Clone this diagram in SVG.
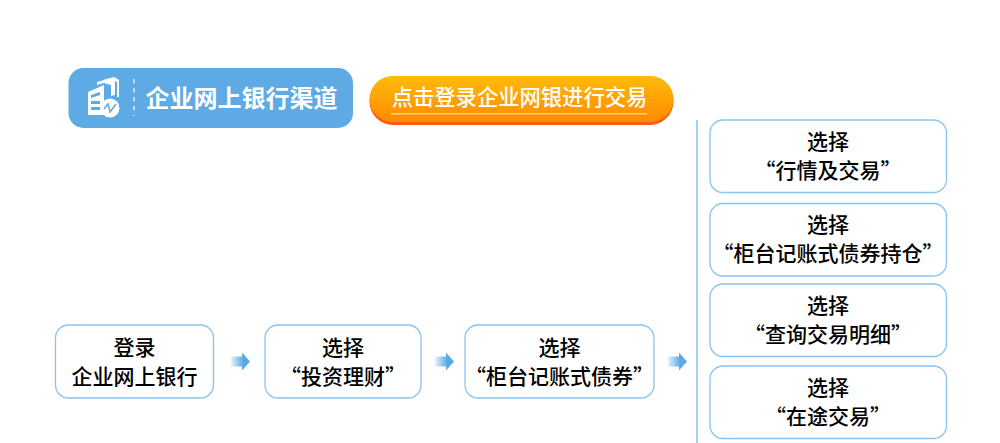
<svg xmlns="http://www.w3.org/2000/svg" width="1000" height="443" viewBox="0 0 1000 443">
<defs>
<linearGradient id="og" x1="0" y1="0" x2="0" y2="1"><stop offset="0" stop-color="#ffbb0a"/><stop offset="1" stop-color="#ff8a00"/></linearGradient>
<linearGradient id="ag" x1="0" y1="0" x2="1" y2="0"><stop offset="0" stop-color="#5aa9e6" stop-opacity="0.15"/><stop offset="0.65" stop-color="#5aa9e6"/></linearGradient>
<path id="arrow" d="M0 -5H11V-9L19 0L11 9V5H0Z" fill="url(#ag)"/>
</defs>
<style>
text{font-family:"Noto Sans CJK SC","Noto Sans CJK JP",sans-serif;text-anchor:middle}
.b{fill:#fff;stroke:#8cc3ee;stroke-width:1.300}
.t{font-size:21px;fill:#000;font-weight:500}
</style>
<rect width="1000" height="443" fill="#fff"/>
<g id="channel-title">
<rect x="68.500" y="68" width="284.500" height="60" rx="15" fill="#5eaae4"/>
<g fill="#fff">
<path d="M88 92L104 85V115H88ZM91 95V98L100 95V92ZM91 101V104H100V101ZM91 107V110H100V107Z" fill-rule="evenodd"/>
<path d="M97 82L112 78L115 80V95L111 96V85L104 83L97 85Z"/>
<path d="M103 80L114 77L119 80V97L117 97V82L113 80L103 83Z"/>
<circle cx="110" cy="108" r="9.500"/>
</g>
<path d="M104 109L108 104L110 112L116 104" fill="none" stroke="#5eaae4" stroke-width="1.500"/>
<path d="M134 79V116" stroke="#fff" stroke-width="1.200" stroke-dasharray="4.500 4.500" fill="none"/>
<text x="241.500" y="107" font-size="24" font-weight="700" fill="#fff">企业网上银行渠道</text>
</g>
<g id="login-button">
<rect x="369.500" y="78" width="304" height="47" rx="23.500" fill="#ff5a14"/>
<rect x="369.500" y="76" width="304" height="46" rx="23" fill="url(#og)"/>
<text x="519.500" y="105" font-size="21.300" fill="#fff" font-weight="500">点击登录企业网银进行交易</text>
<rect x="391" y="113" width="256" height="1.500" fill="#ffd27a"/>
</g>
<g id="connectors">
<path d="M697 120V443" stroke="#a6d1f3" stroke-width="2" fill="none"/>
<use href="#arrow" x="231" y="361.500"/>
<use href="#arrow" x="435" y="361.500"/>
<use href="#arrow" x="668" y="361.500"/>
</g>
<g id="node-login"><rect class="b" x="55.500" y="325" width="158" height="73" rx="13"/>
<text class="t" x="134.500" y="355">登录</text><text class="t" x="134.500" y="384">企业网上银行</text></g>
<g id="node-invest"><rect class="b" x="265" y="325" width="156" height="73" rx="13"/>
<text class="t" x="343" y="355">选择</text><text class="t" x="343" y="384">“投资理财”</text></g>
<g id="node-otc"><rect class="b" x="465" y="325" width="189" height="73" rx="13"/>
<text class="t" x="559.500" y="355">选择</text><text class="t" x="559.500" y="384">“柜台记账式债券”</text></g>
<g id="node-market"><rect class="b" x="710" y="120" width="236.500" height="72.500" rx="13"/>
<text class="t" x="828" y="149">选择</text><text class="t" x="828" y="178">“行情及交易”</text></g>
<g id="node-position"><rect class="b" x="710" y="203.500" width="236.500" height="72.500" rx="13"/>
<text class="t" x="828" y="232">选择</text><text class="t" x="828" y="261">“柜台记账式债券持仓”</text></g>
<g id="node-query"><rect class="b" x="710" y="284" width="236.500" height="72.500" rx="13"/>
<text class="t" x="828" y="313">选择</text><text class="t" x="828" y="342">“查询交易明细”</text></g>
<g id="node-transit"><rect class="b" x="710" y="366" width="236.500" height="72.500" rx="13"/>
<text class="t" x="828" y="395">选择</text><text class="t" x="828" y="424">“在途交易”</text></g>
</svg>
